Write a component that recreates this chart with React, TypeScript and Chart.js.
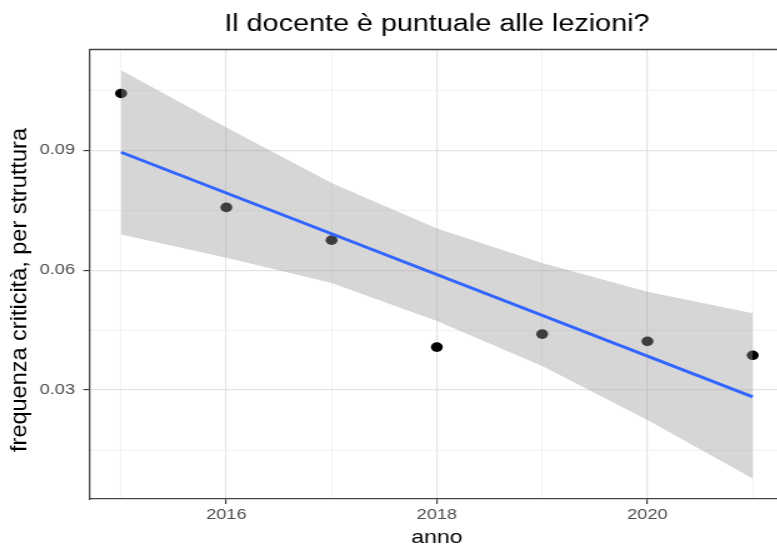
import { useEffect, useRef } from 'react';
import { Chart, registerables } from 'chart.js';

Chart.register(...registerables);

// ---- data ----
const years = [2015, 2016, 2017, 2018, 2019, 2020, 2021];
const frequenza = [0.1042, 0.0757, 0.0675, 0.04075, 0.044, 0.0422, 0.0387];
const fitYears = [2015, 2021];
const fitValues = [0.0895, 0.0283];
const bandUpper = [0.11, 0.0957, 0.0818, 0.0704, 0.0618, 0.0546, 0.0492];
const bandLower = [0.0689, 0.0631, 0.0568, 0.0473, 0.036, 0.0225, 0.0079];
const xTicks = [2015, 2016, 2017, 2018, 2019, 2020, 2021];
const xMajorTicks = [2016, 2018, 2020];
const yTicks = [0.015, 0.03, 0.045, 0.06, 0.075, 0.09, 0.105];
const yMajorTicks = [0.03, 0.06, 0.09];

const TITLE = 'Il docente è puntuale alle lezioni?';
const X_TITLE = 'anno';
const Y_TITLE = 'frequenza criticità, per struttura';

const FONT = "'Liberation Sans', Arial, Helvetica, sans-serif";
const STRETCH = 1.25;
const W = 634;
const H = 547;

const isMajor = (v: number, list: number[]) => list.some((m) => Math.abs(m - v) < 1e-9);

// panel border (top / right) like ggplot's theme_bw
const panelBorder = {
  id: 'panelBorder',
  afterDraw(chart: any) {
    const { ctx, chartArea: a } = chart;
    ctx.save();
    ctx.strokeStyle = '#444444';
    ctx.lineWidth = 1.3;
    ctx.beginPath();
    ctx.moveTo(a.left, a.top);
    ctx.lineTo(a.right, a.top);
    ctx.lineTo(a.right, a.bottom);
    ctx.stroke();
    ctx.restore();
  },
};

// y axis title, drawn with the same along-baseline width as the other texts
const yAxisTitle = {
  id: 'yAxisTitle',
  afterDraw(chart: any) {
    const { ctx } = chart;
    ctx.save();
    ctx.translate(16, 290);
    ctx.scale(1 / STRETCH, 1);
    ctx.rotate(-Math.PI / 2);
    ctx.fillStyle = '#000000';
    ctx.font = `normal 23.5px ${FONT}`;
    ctx.textAlign = 'center';
    ctx.textBaseline = 'middle';
    ctx.fillText(Y_TITLE, 0, 0);
    ctx.restore();
  },
};

export default function App() {
  const ref = useRef<HTMLCanvasElement | null>(null);

  useEffect(() => {
    if (!ref.current) return;
    const bandColor = 'rgba(153,153,153,0.4)';
    const chart = new Chart(ref.current, {
      type: 'line',
      data: {
        datasets: [
          {
            label: 'punti',
            data: years.map((x, i) => ({ x, y: frequenza[i] })),
            showLine: false,
            pointRadius: 4.8,
            pointHoverRadius: 4.8,
            pointBackgroundColor: '#000000',
            pointBorderWidth: 0,
            borderColor: 'rgba(0,0,0,0)',
            order: 3,
          },
          {
            label: 'upper',
            data: years.map((x, i) => ({ x, y: bandUpper[i] })),
            fill: '+1',
            backgroundColor: bandColor,
            borderColor: 'rgba(0,0,0,0)',
            borderWidth: 0,
            pointRadius: 0,
            order: 2,
          },
          {
            label: 'lower',
            data: years.map((x, i) => ({ x, y: bandLower[i] })),
            fill: false,
            backgroundColor: bandColor,
            borderColor: 'rgba(0,0,0,0)',
            borderWidth: 0,
            pointRadius: 0,
            order: 2,
          },
          {
            label: 'fit',
            data: fitYears.map((x, i) => ({ x, y: fitValues[i] })),
            fill: false,
            borderColor: '#3366FF',
            borderWidth: 3,
            pointRadius: 0,
            order: 1,
          },
        ],
      },
      options: {
        animation: false,
        responsive: false,
        devicePixelRatio: 1,
        events: [],
        layout: { padding: { left: 0, right: 6.6, top: 0, bottom: 0 } },
        plugins: {
          legend: { display: false },
          tooltip: { enabled: false },
          title: {
            display: true,
            text: TITLE,
            fullSize: false,
            color: '#000000',
            font: { family: FONT, size: 23, weight: 'normal', lineHeight: 1.2 },
            padding: { top: 11.2, bottom: 10.7 },
          },
        },
        scales: {
          x: {
            type: 'linear',
            min: 2014.7,
            max: 2021.3,
            afterBuildTicks: (s: any) => {
              s.ticks = xTicks.map((v) => ({ value: v }));
            },
            afterFit: (s: any) => {
              s.height = 48;
            },
            ticks: {
              autoSkip: false,
              maxRotation: 0,
              minRotation: 0,
              padding: 2.6,
              color: '#4d4d4d',
              font: { family: FONT, size: 14.5, lineHeight: 1.2 },
              callback: (v: any) => (isMajor(Number(v), xMajorTicks) ? String(v) : ''),
            },
            grid: {
              color: (c: any) => (isMajor(c.tick?.value, xMajorTicks) ? '#e4e4e4' : '#f0f0f0'),
              lineWidth: (c: any) => (isMajor(c.tick?.value, xMajorTicks) ? 1.2 : 0.9),
              tickColor: (c: any) => (isMajor(c.tick?.value, xMajorTicks) ? '#333333' : 'rgba(0,0,0,0)'),
              tickLength: 5,
              tickWidth: 1.1,
              drawTicks: true,
            },
            border: { display: true, color: '#444444', width: 1.3 },
            title: {
              display: true,
              text: X_TITLE,
              color: '#000000',
              font: { family: FONT, size: 18.5, lineHeight: 1 },
              padding: { top: 0, bottom: 0.2 },
            },
          },
          y: {
            type: 'linear',
            min: 0.00275,
            max: 0.1152,
            afterBuildTicks: (s: any) => {
              s.ticks = yTicks.map((v) => ({ value: v }));
            },
            afterFit: (s: any) => {
              s.width = 71.6;
            },
            ticks: {
              autoSkip: false,
              padding: 6.6,
              color: '#4d4d4d',
              font: { family: FONT, size: 14.5, lineHeight: 1.2 },
              callback: (v: any) => (isMajor(Number(v), yMajorTicks) ? Number(v).toFixed(2) : ''),
            },
            grid: {
              color: (c: any) => (isMajor(c.tick?.value, yMajorTicks) ? '#e4e4e4' : '#f0f0f0'),
              lineWidth: (c: any) => (isMajor(c.tick?.value, yMajorTicks) ? 1.2 : 0.9),
              tickColor: (c: any) => (isMajor(c.tick?.value, yMajorTicks) ? '#333333' : 'rgba(0,0,0,0)'),
              tickLength: 5,
              tickWidth: 1.1,
              drawTicks: true,
            },
            border: { display: true, color: '#444444', width: 1.3 },
            title: { display: false, text: Y_TITLE },
          },
        },
      },
      plugins: [panelBorder, yAxisTitle],
    } as any);
    return () => chart.destroy();
  }, []);

  return (
    <div
      style={{
        position: 'fixed',
        left: 0,
        top: 0,
        width: 777,
        height: 547,
        overflow: 'hidden',
        background: '#ffffff',
      }}
    >
      <div
        style={{
          width: W,
          height: H,
          transform: `scaleX(${STRETCH})`,
          transformOrigin: '0 0',
        }}
      >
        <canvas ref={ref} width={W} height={H} style={{ width: W, height: H, display: 'block' }} />
      </div>
    </div>
  );
}
